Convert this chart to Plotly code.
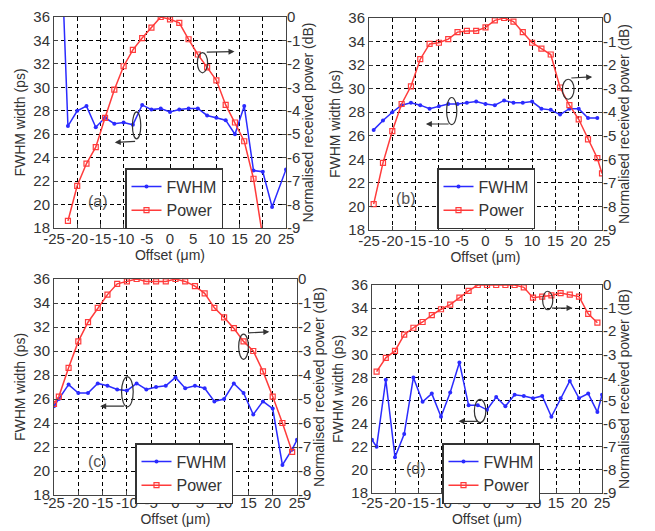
import plotly.graph_objects as go

# ---------------- data ----------------
# panel (a)
a_fwhm_x = [-24, -22, -20, -18, -16, -14, -12, -10, -8, -6, -4, -2, 0, 2, 4, 6, 8, 10, 12, 14, 16, 18, 20, 22, 25]
a_fwhm_y = [48, 26.7, 28.0, 28.4, 26.6, 27.4, 26.9, 27.0, 26.8, 28.5, 28.1, 28.2, 27.9, 28.1, 28.2, 28.2, 27.6, 27.4, 27.2, 26.0, 28.4, 22.9, 22.8, 19.8, 23.0]
a_pow_x = [-22, -20, -18, -16, -14, -12, -10, -8, -6, -4, -2, 0, 2, 4, 6, 8, 10, 12, 14, 16, 18, 20]
a_pow_y = [-8.7, -7.2, -6.25, -5.55, -4.3, -3.1, -2.1, -1.4, -0.9, -0.45, 0, -0.1, -0.25, -0.95, -1.6, -2.15, -2.7, -3.75, -4.5, -5.3, -6.9, -9.4]

# panel (b)
b_fwhm_x = [-24, -22, -20, -18, -16, -14, -12, -10, -8, -6, -4, -2, 0, 2, 4, 6, 8, 10, 12, 14, 16, 18, 20, 22, 24]
b_fwhm_y = [26.5, 27.3, 28.0, 28.6, 28.8, 28.6, 28.3, 28.5, 28.7, 28.7, 28.8, 28.9, 28.7, 28.6, 29.0, 28.8, 28.8, 28.9, 28.3, 28.2, 27.8, 28.3, 28.3, 27.5, 27.5]
b_pow_x = [-24, -22, -20, -18, -16, -14, -12, -10, -8, -6, -4, -2, 0, 2, 4, 6, 8, 10, 12, 14, 16, 18, 20, 22, 24, 25]
b_pow_y = [-7.9, -6.15, -4.8, -3.65, -2.9, -1.75, -1.1, -1.05, -0.9, -0.6, -0.55, -0.55, -0.4, -0.1, 0, -0.15, -0.6, -1.05, -1.3, -1.55, -2.95, -3.7, -4.3, -5.15, -5.95, -6.6]

# panel (c)
c_fwhm_x = [-25, -24, -22, -20, -18, -16, -14, -12, -10, -8, -6, -4, -2, 0, 2, 4, 6, 8, 10, 12, 14, 16, 18, 20, 22, 24, 25]
c_fwhm_y = [25.4, 26.0, 27.2, 26.5, 26.5, 27.3, 27.1, 26.8, 26.7, 27.3, 26.8, 27.0, 27.1, 27.8, 26.9, 27.1, 26.9, 25.8, 26.0, 27.3, 26.5, 24.7, 25.8, 25.2, 20.5, 21.8, 22.6]
c_pow_x = [-25, -24, -22, -20, -18, -16, -14, -12, -10, -8, -6, -4, -2, 0, 2, 4, 6, 8, 10, 12, 14, 16, 18, 20, 22, 24]
c_pow_y = [-5.2, -4.9, -3.7, -2.6, -1.8, -1.2, -0.65, -0.2, -0.1, 0, -0.1, -0.1, -0.1, 0, -0.1, -0.3, -0.6, -1.2, -1.6, -2.05, -2.6, -3.0, -3.85, -4.9, -6.0, -7.2]

# panel (d)
d_fwhm_x = [-25, -24, -22, -20, -18, -16, -14, -12, -10, -8, -6, -4, -2, 0, 2, 4, 6, 8, 10, 12, 14, 16, 18, 20, 22, 24, 25]
d_fwhm_y = [22.6, 22.0, 27.8, 21.1, 23.1, 28.0, 25.9, 26.6, 24.6, 26.7, 29.3, 25.6, 25.6, 25.2, 26.3, 25.5, 26.5, 26.4, 26.2, 26.4, 24.6, 26.2, 27.7, 26.2, 26.6, 25.0, 26.5]
d_pow_x = [-24, -22, -20, -18, -16, -14, -12, -10, -8, -6, -4, -2, 0, 2, 4, 6, 8, 10, 12, 14, 16, 18, 20, 22, 24]
d_pow_y = [-3.75, -3.15, -2.85, -2.15, -1.85, -1.6, -1.3, -1.05, -0.85, -0.55, -0.25, 0, 0, 0, 0, 0, -0.1, -0.55, -0.5, -0.45, -0.35, -0.42, -0.5, -1.25, -1.63]

panel_labels = ["(a)", "(b)", "(c)", "(d)"]
x_ticks = [-25, -20, -15, -10, -5, 0, 5, 10, 15, 20, 25]
left_ticks = [18, 20, 22, 24, 26, 28, 30, 32, 34, 36]
right_ticks = [0, -1, -2, -3, -4, -5, -6, -7, -8, -9]

panels = [
    (a_fwhm_x, a_fwhm_y, a_pow_x, a_pow_y),
    (b_fwhm_x, b_fwhm_y, b_pow_x, b_pow_y),
    (c_fwhm_x, c_fwhm_y, c_pow_x, c_pow_y),
    (d_fwhm_x, d_fwhm_y, d_pow_x, d_pow_y),
]

# ---------------- layout geometry ----------------
W, H = 655, 531
# (left, right, top, bottom) in pixels
boxes = [(54, 286, 17, 228), (369, 602, 18, 230), (54, 297, 279, 495), (372, 602, 285, 493)]
legend_pos = [(125, 168), (437, 168), (135, 443), (442, 443)]
label_pos = [(-15.5, 20.3), (-17.0, 20.7), (-16.0, 20.8), (-15.5, 20.1)]
xlabel_shift = [-3, -3, -6, -4]

# ellipses: (cx, cy, half-w, half-h) ; arrows: (tail_x, tail_y, head_x, head_y)
ellipses = [
    [(-7.2, 26.75, 0.9, 1.15), (7.0, 32.1, 1.1, 0.86)],
    [(-7.25, 28.1, 1.1, 1.15), (17.75, 29.95, 1.25, 0.85)],
    [(-9.9, 26.6, 1.2, 1.25), (14.0, 30.36, 1.0, 1.05)],
    [(-1.5, 25.1, 1.25, 1.0), (13.2, 34.66, 1.1, 0.8)],
]
arrows = [
    [(-7.2, 25.4, -11.9, 25.3), (7.6, 33.0, 13.9, 33.05)],
    [(-7.6, 27.0, -12.8, 27.0), (18.1, 30.9, 22.9, 31.0)],
    [(-10.3, 25.4, -15.5, 25.4), (14.6, 31.5, 19.3, 31.6)],
    [(-1.8, 24.2, -6.2, 24.2), (13.8, 34.0, 18.6, 34.0)],
]

FONT = "Liberation Sans, Arial, sans-serif"
BLUE = "#2b2bff"
RED = "#ff3b3b"
TXT = "#333333"

fig = go.Figure()
layout = dict(
    width=W, height=H,
    margin=dict(l=0, r=0, t=0, b=0, autoexpand=False),
    paper_bgcolor="white", plot_bgcolor="white",
    font=dict(family=FONT, size=15, color=TXT),
    shapes=[], annotations=[],
)

for i, (fx, fy, px, py) in enumerate(panels):
    n = i + 1
    xa = "x" if n == 1 else f"x{n}"
    yl_n = 2 * i + 1
    yr_n = 2 * i + 2
    yl = "y" if yl_n == 1 else f"y{yl_n}"
    yr = f"y{yr_n}"
    leg = "legend" if n == 1 else f"legend{n}"

    fig.add_trace(go.Scatter(
        x=fx, y=fy, xaxis=xa, yaxis=yl, name="FWHM", legend=leg,
        mode="lines+markers",
        line=dict(color=BLUE, width=1.5),
        marker=dict(symbol="circle", size=4, color=BLUE),
    ))
    fig.add_trace(go.Scatter(
        x=px, y=py, xaxis=xa, yaxis=yr, name="Power", legend=leg,
        mode="lines+markers",
        line=dict(color=RED, width=1.5),
        marker=dict(symbol="square-open", size=5, color=RED, line=dict(width=1.2)),
    ))

    l, r, t, b = boxes[i]
    xdom = [l / W, r / W]
    ydom = [1 - b / H, 1 - t / H]
    xkey = "xaxis" if n == 1 else f"xaxis{n}"
    ylkey = "yaxis" if yl_n == 1 else f"yaxis{yl_n}"
    yrkey = f"yaxis{yr_n}"

    layout[xkey] = dict(
        domain=xdom, anchor=yl, range=[-25, 25], automargin=False,
        tickvals=x_ticks, ticktext=[str(v) for v in x_ticks], tickangle=0,
        ticklabelstandoff=xlabel_shift[i],
        showgrid=True, gridcolor="black", griddash="4px,3px", gridwidth=1,
        zeroline=False, showline=True, mirror=True, linecolor="#444", linewidth=1,
        ticks="inside", ticklen=4, tickcolor="#444",
        tickfont=dict(size=15, color=TXT),
        title=dict(text="Offset (μm)", font=dict(size=14, color=TXT), standoff=0),
    )
    layout[ylkey] = dict(
        domain=ydom, anchor=xa, range=[18, 36], automargin=False,
        tickvals=left_ticks, ticktext=[str(v) for v in left_ticks],
        showgrid=True, gridcolor="black", griddash="4px,3px", gridwidth=1,
        zeroline=False, showline=True, mirror=True, linecolor="#444", linewidth=1,
        ticks="inside", ticklen=4, tickcolor="#444",
        tickfont=dict(size=15, color=TXT),
        title=dict(text="FWHM width (ps)", font=dict(size=14, color=TXT), standoff=4),
    )
    layout[yrkey] = dict(
        overlaying=yl, side="right", anchor=xa, range=[-9, 0], automargin=False,
        tickvals=right_ticks, ticktext=[str(v) for v in right_ticks],
        showgrid=False, zeroline=False, showline=False,
        ticks="inside", ticklen=4, tickcolor="#444",
        tickfont=dict(size=15, color=TXT),
        title=dict(text="Normalised received power (dB)", font=dict(size=14, color=TXT), standoff=2),
    )

    lx, ly = legend_pos[i]
    layout[leg] = dict(
        x=lx / W, y=1 - ly / H, xanchor="left", yanchor="top",
        bgcolor="white", bordercolor="#333", borderwidth=1.5,
        font=dict(family=FONT, size=16, color=TXT),
        itemwidth=30, tracegroupgap=0,
    )

    labx, laby = label_pos[i]
    layout["annotations"].append(dict(
        x=labx, y=laby, xref=xa, yref=yl, text=panel_labels[i], showarrow=False,
        font=dict(family=FONT, size=16, color="#555"),
    ))

    for (cx, cy, hw, hh) in ellipses[i]:
        layout["shapes"].append(dict(
            type="circle", xref=xa, yref=yl,
            x0=cx - hw, x1=cx + hw, y0=cy - hh, y1=cy + hh,
            line=dict(color="#333", width=1.2),
        ))
    for (tx, ty, hx, hy) in arrows[i]:
        layout["annotations"].append(dict(
            x=hx, y=hy, ax=tx, ay=ty, xref=xa, yref=yl, axref=xa, ayref=yl,
            text="", showarrow=True, arrowhead=2, arrowsize=1, arrowwidth=1.2,
            arrowcolor="#333",
        ))

fig.update_layout(**layout)
fig.write_html(
    "out.html",
    config={"displayModeBar": False},
    post_script="document.body.style.margin='0';document.body.style.overflow='hidden';",
)
